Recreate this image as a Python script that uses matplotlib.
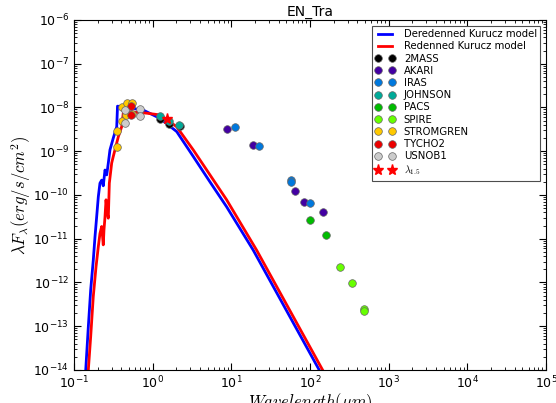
"""
SED plot for EN_Tra: Kurucz model (dereddened / reddened) plus catalogue photometry.
"""

import matplotlib
matplotlib.use("Agg")
import matplotlib.pyplot as plt
import numpy as np

plt.rcParams["mathtext.fontset"] = "cm"
plt.rcParams["font.family"] = ["DejaVu Sans"]

# model curves (log10 wavelength [um], log10 lambda*F_lambda)
blue_loglam = [-0.851, -0.818, -0.788, -0.755, -0.733, -0.712, -0.691, -0.670, -0.648,
               -0.628, -0.606, -0.584, -0.564, -0.543, -0.501, -0.457, -0.447, -0.330,
               -0.119, 0.093, 0.305, 0.516, 0.728, 0.940, 1.278, 2.117, 2.500]
blue_logf = [-14.0, -13.01, -12.17, -11.49, -10.95, -10.50, -10.04, -9.73, -9.66,
             -9.79, -9.43, -9.54, -9.27, -8.97, -8.70, -8.44, -7.97, -8.00,
             -8.06, -8.25, -8.55, -9.12, -9.70, -10.27, -11.26, -14.0, -15.15]

red_loglam = [-0.818, -0.788, -0.755, -0.720, -0.691, -0.670, -0.648, -0.628, -0.619,
              -0.606, -0.593, -0.577, -0.564, -0.551, -0.521, -0.501, -0.437, -0.394,
              -0.374, -0.288, -0.076, 0.093, 0.305, 0.516, 0.728, 0.940, 1.321, 2.160, 2.500]
red_logf = [-14.0, -13.24, -12.32, -11.64, -11.18, -10.88, -10.72, -11.14, -10.80,
            -10.50, -10.11, -10.41, -10.53, -9.73, -9.27, -9.12, -8.67, -8.44,
            -8.13, -8.10, -8.13, -8.17, -8.44, -8.97, -9.54, -10.11, -11.26, -14.0, -15.02]

# photometry per catalogue (log10 wavelength, log10 flux)
names = ["2MASS", "AKARI", "IRAS", "JOHNSON", "PACS", "SPIRE", "STROMGREN", "TYCHO2", "USNOB1"]
phot_loglam = {
    "2MASS": [0.099, 0.213, 0.341],
    "AKARI": [0.944, 1.271, 1.808, 1.922, 2.160],
    "IRAS": [1.042, 1.355, 1.761, 1.761, 1.995],
    "JOHNSON": [0.093, 0.211, 0.338],
    "PACS": [2.000, 2.198],
    "SPIRE": [2.384, 2.533, 2.685, 2.685],
    "STROMGREN": [-0.457, -0.457, -0.394, -0.330, -0.267, -0.394, -0.333, -0.257],
    "TYCHO2": [-0.276, -0.276],
    "USNOB1": [-0.352, -0.352, -0.161, -0.161],
}
phot_logf = {
    "2MASS": [-8.26, -8.38, -8.43],
    "AKARI": [-8.50, -8.86, -9.92, -10.16, -10.40],
    "IRAS": [-8.45, -8.87, -9.66, -9.70, -10.19],
    "JOHNSON": [-8.19, -8.32, -8.41],
    "PACS": [-10.57, -10.91],
    "SPIRE": [-11.65, -12.01, -12.61, -12.66],
    "STROMGREN": [-8.91, -8.54, -7.98, -7.90, -7.90, -8.30, -8.17, -8.14],
    "TYCHO2": [-7.96, -8.17],
    "USNOB1": [-8.06, -8.35, -8.03, -8.19],
}

star_lam = [1.5]
star_logf = [-8.27]


def main() -> None:
    fig = plt.figure(figsize=(5.56, 4.03), dpi=100)
    ax = fig.add_axes([0.1331, 0.0819, 0.849, 0.8685])

    ax.plot(10 ** np.asarray(blue_loglam), 10 ** np.asarray(blue_logf), color="b", lw=2,
            label="Deredenned Kurucz model", zorder=2)
    ax.plot(10 ** np.asarray(red_loglam), 10 ** np.asarray(red_logf), color="r", lw=2,
            label="Redenned Kurucz model", zorder=2)

    colors = plt.cm.nipy_spectral(np.linspace(0, 1, len(names)))
    for name, col in zip(names, colors):
        ax.plot(10 ** np.asarray(phot_loglam[name]), 10 ** np.asarray(phot_logf[name]),
                "o", color=col, ms=5.5, mec="0.4", mew=0.5, label=name, zorder=3)

    ax.plot(star_lam, 10 ** np.asarray(star_logf), "*", color="r", ms=8, mec="r",
            label=r"$\lambda_{1.5}$", zorder=4)

    ax.set_xscale("log")
    ax.set_yscale("log")
    ax.set_xlim(1e-1, 1e5)
    ax.set_ylim(1e-14, 1e-6)
    ax.tick_params(which="both", direction="in", top=True, right=True, labelsize=9)
    ax.tick_params(which="major", length=5)
    ax.tick_params(which="minor", length=2.5)
    ax.set_ylabel(r"$\lambda F_{\lambda} (erg/s/cm^2)$", fontsize=12, labelpad=0)
    ax.set_xlabel(r"$Wavelength(\mu m)$", fontsize=12, labelpad=0)
    ax.set_title("EN_Tra", fontsize=10, pad=3)

    leg = ax.legend(loc="upper right", numpoints=2, fontsize=7.3, fancybox=False,
                    framealpha=1, edgecolor="0.3", handlelength=1.9, handletextpad=0.9,
                    labelspacing=0.22, borderpad=0.35, borderaxespad=0.55)
    leg.get_frame().set_linewidth(0.8)

    fig.savefig("out.png", dpi=100)
    plt.close(fig)


if __name__ == "__main__":
    main()
